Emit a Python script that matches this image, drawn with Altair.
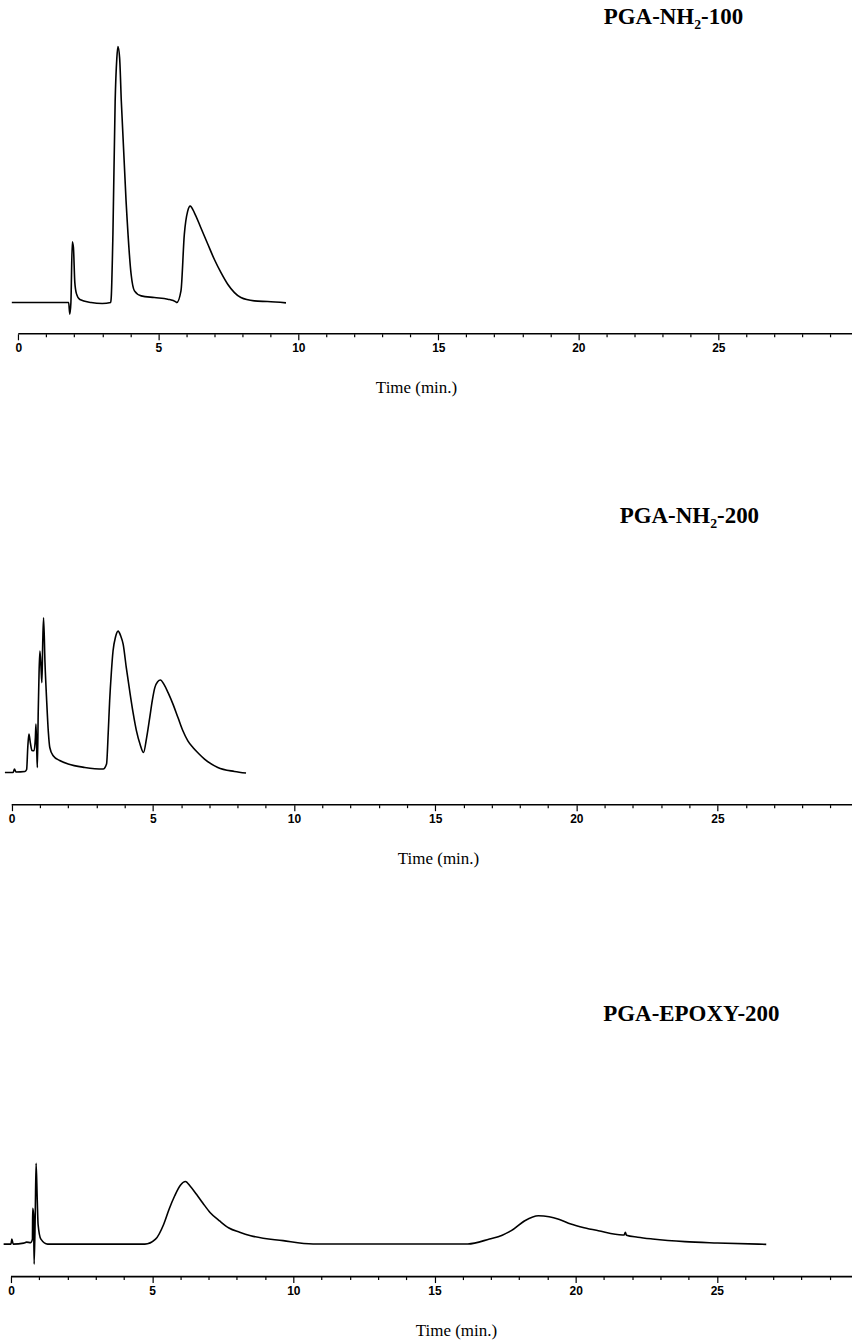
import altair as alt
import pandas as pd

names = ["PGA-NH\u2082-100", "PGA-NH\u2082-200", "PGA-EPOXY-200"]

# Panel 1 : PGA-NH2-100 (time in min, detector signal in arbitrary units)
t1 = [-0.23, 1.80, 1.84, 1.88, 1.93, 1.97, 2.02, 2.08, 2.2, 2.6, 3.0, 3.3, 3.32, 3.38, 3.46, 3.52,
      3.56, 3.62, 3.68, 3.85, 4.03, 4.15, 4.39, 4.86, 5.34, 5.63, 5.66, 5.81, 5.93, 6.05, 6.14,
      6.29, 6.52, 6.77, 7.0, 7.24, 7.48, 7.72, 7.95, 8.43, 8.9, 9.56]
s1 = [0, 0, -11.6, 0, 61, 55, 20, 8.7, 3, 0, -1, 0, 5, 68, 201.7, 245,
      256.7, 245, 201.7, 101.7, 28.4, 11.7, 6.7, 5, 3.4, 0.7, 0, 11.7, 68.4, 91.7, 96.7,
      90, 75, 58.4, 43.4, 30, 18.4, 10, 5, 1.7, 1, -0.3]

# Panel 2 : PGA-NH2-200
t2 = [-0.24, 0.05, 0.1, 0.15, 0.47, 0.53, 0.57, 0.61, 0.66, 0.72, 0.79, 0.84, 0.86, 0.89, 0.91,
      0.94, 0.97, 1.0, 1.04, 1.07, 1.10, 1.13, 1.18, 1.24, 1.30, 1.35, 1.47, 1.7, 2.0, 2.59, 3.24,
      3.36, 3.42, 3.47, 3.53, 3.59, 3.68, 3.77, 3.86, 3.95, 4.06, 4.18, 4.30, 4.42, 4.55, 4.67,
      4.78, 4.89, 4.98, 5.07, 5.17, 5.27, 5.40, 5.54, 5.72, 5.89, 6.06, 6.24, 6.42, 6.62, 6.83,
      7.3, 7.89, 8.3]
s2 = [0, 0, 3.4, 0.5, 1, 3, 25, 38.4, 30, 22, 21.7, 35, 48.4, 20, 5,
      60, 100, 121.7, 105, 90, 130, 155, 110, 71.7, 40, 25, 16.7, 12, 8.4, 5, 3.4,
      8.4, 40, 71.7, 100, 121.7, 136, 141.7, 137, 128.4, 105, 81.7, 60, 41.7, 28, 20,
      35, 55, 72, 85, 91, 92.7, 88, 80, 68, 55, 42, 31.7, 25, 19, 13.4,
      5, 1, -0.6]

# Panel 3 : PGA-EPOXY-200
t3 = [-0.26, 0.0, 0.03, 0.08, 0.45, 0.55, 0.70, 0.76, 0.77, 0.80, 0.82, 0.86, 0.89, 0.93, 0.96,
      1.06, 1.30, 4.74, 5.12, 5.41, 5.6, 5.8, 6.0, 6.18, 6.35, 6.57, 6.8, 7.05, 7.4, 7.72, 8.1,
      8.49, 9.64, 10.7, 16.18, 16.95, 17.4, 17.72, 18.2, 18.68, 19.06, 19.4, 19.83, 20.3, 20.8,
      21.66, 21.72, 21.76, 21.8, 22.2, 22.72, 23.87, 25.02, 26.75]
s3 = [0, 0, 5, 0, 1, 2, 1.5, 5, 36, 30, -20, 30, 81, 45, 20,
      5, 0, 0, 5, 20, 35, 48.5, 59, 62.8, 58, 50, 41, 31.8, 23, 16.2, 12,
      8.5, 3.5, 0.2, 0.2, 5.2, 9, 13.5, 23.5, 28.5, 27.5, 25, 20.2, 16.5, 13.5,
      9.2, 9.2, 12, 9, 7, 5.2, 2.5, 1.2, -0.2]

tick_values = list(range(0, 30))

W = 853
SERIF = "Liberation Serif, Times New Roman, serif"
NARROW = "Liberation Sans Narrow, Arial Narrow, Liberation Sans, sans-serif"


def panel(t, s, name, height, ymin, xmin, xmax, title_x, lab_x, lab_y):
    df = pd.DataFrame({"time": t, "signal": s})
    xscale = alt.Scale(domain=[xmin, xmax], nice=False, zero=False)
    yscale = alt.Scale(domain=[ymin, height + ymin], nice=False, zero=False)
    axis = alt.Axis(
        values=tick_values,
        labelExpr="datum.value % 5 === 0 ? datum.label : ''",
        labelOverlap=False,
        domain=False, grid=False,
        tickSize={"condition": {"test": "datum.value % 5 === 0", "value": 6}, "value": 3},
        tickColor="black", tickWidth=1.2,
        labelFont=NARROW, labelFontWeight="bold", labelFontSize=12, labelColor="black",
        labelPadding=3,
        title="Time (min.)", titleFont=SERIF, titleFontWeight="normal", titleFontSize=17,
        titleColor="black", titleX=title_x, titleY=54, titleBaseline="middle", titleAlign="center",
    )
    line = alt.Chart(df).mark_line(color="black", strokeWidth=1.6, interpolate="monotone").encode(
        x=alt.X("time:Q", scale=xscale, axis=axis),
        y=alt.Y("signal:Q", scale=yscale, axis=None),
    )
    rule_df = pd.DataFrame({"time": [0.0], "time2": [xmax]})
    rule = alt.Chart(rule_df).mark_rule(color="black", strokeWidth=1.6).encode(
        x=alt.X("time:Q", scale=xscale, axis=axis), x2="time2:Q", y=alt.value(height)
    )
    label = alt.Chart(pd.DataFrame({"name": [name]})).mark_text(
        font=SERIF, fontWeight="bold", fontSize=23, color="black", align="center", baseline="middle"
    ).encode(x=alt.value(lab_x), y=alt.value(lab_y), text="name:N")
    return alt.layer(line, rule, label).properties(width=W, height=height)


H1, H2, H3 = 333, 410, 411
p1 = panel(t1, s1, names[0], H1, -31.3, -17.3 / 28.07, (W - 17.3) / 28.07, 416, 674, 15)
p2 = panel(t2, s2, names[1], H2, -32.3, -10.7 / 28.3, (W - 10.7) / 28.3, 438, 690, 515 - 394)
p3 = panel(t3, s3, names[2], H3, -32.5, -10.0 / 28.3, (W - 10.0) / 28.3, 456, 692, 1013 - 865)

chart = alt.vconcat(p1, p2, p3, spacing=0).properties(
    padding=0, background="white"
).configure_view(stroke=None)

chart.save("out.html", embed_options={"renderer": "svg", "actions": False})
